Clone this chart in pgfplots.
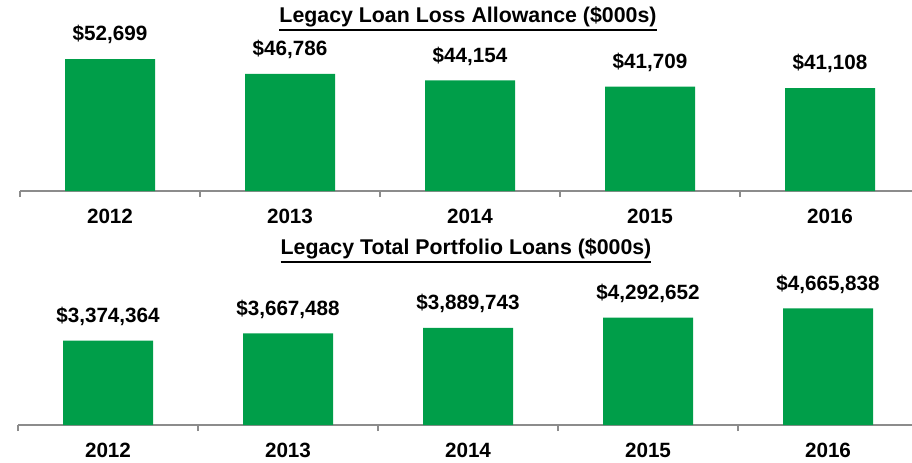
\documentclass[border=0pt]{standalone}
\usepackage{pgfplots}
\pgfplotsset{compat=1.18}
\usepackage{pgfplotstable}
\usepackage{fontspec}
\setmainfont{Liberation Sans}

\definecolor{barGreen}{HTML}{009E49}
\definecolor{axisGray}{HTML}{8C8C8C}

% thicker underline, as in the reference titles
\newcommand\ul[1]{\leavevmode\vtop{\hbox{#1}\kern1.6pt\hrule height 1.4pt}}

% 1 px of the reference = 0.75pt
\pgfplotstableread{
x y lab
0 52699 52,699
1 46786 46,786
2 44154 44,154
3 41709 41,709
4 41108 41,108
}\allowance

\pgfplotstableread{
x y lab
0 3374364 3,374,364
1 3667488 3,667,488
2 3889743 3,889,743
3 4292652 4,292,652
4 4665838 4,665,838
}\portfolio

\pgfplotsset{
  panel/.style={
    scale only axis,
    width=675pt,
    xmin=-0.5, xmax=4.5,
    ymin=0,
    axis x line*=bottom,
    axis y line=none,
    axis line style={axisGray, line width=1.1pt},
    xtick={0,1,2,3,4},
    xticklabels={2012,2013,2014,2015,2016},
    major tick length=0pt,
    minor xtick={-0.5,0.5,1.5,2.5,3.5},
    minor tick length=4.5pt,
    tick align=outside,
    minor tick style={axisGray, line width=1.1pt},
    xticklabel style={font=\fontsize{15.5}{18}\selectfont\bfseries, yshift=-10pt},
    /pgf/number format/assume math mode=true,
    ybar,
    bar width=67.5pt,
    bar shift=0pt,
    point meta=explicit symbolic,
    nodes near coords={\$\pgfplotspointmeta},
    nodes near coords style={font=\fontsize{15.5}{18}\selectfont\bfseries,
      anchor=south, inner sep=0pt, yshift=11pt, text=black},
    clip=false,
  },
}

\begin{document}
\begin{tikzpicture}
\useasboundingbox (0,0) rectangle (684pt,346.5pt);

\begin{axis}[panel, at={(15pt,203.25pt)}, anchor=south west,
  height=112.65pt, ymax=60000]
\addplot[fill=barGreen, draw=none] table[x=x, y=y, meta=lab] {\allowance};
\end{axis}

\begin{axis}[panel, at={(13.5pt,27.75pt)}, anchor=south west,
  height=120pt, ymax=6400000]
\addplot[fill=barGreen, draw=none] table[x=x, y=y, meta=lab] {\portfolio};
\end{axis}

\node[font=\fontsize{16}{18}\selectfont\bfseries, anchor=base, inner sep=0pt] at (351pt,330pt)
  {\ul{Legacy Loan Loss Allowance (\$000s)}};
\node[font=\fontsize{16}{18}\selectfont\bfseries, anchor=base, inner sep=0pt] at (349.5pt,156pt)
  {\ul{Legacy Total Portfolio Loans (\$000s)}};
\end{tikzpicture}
\end{document}
